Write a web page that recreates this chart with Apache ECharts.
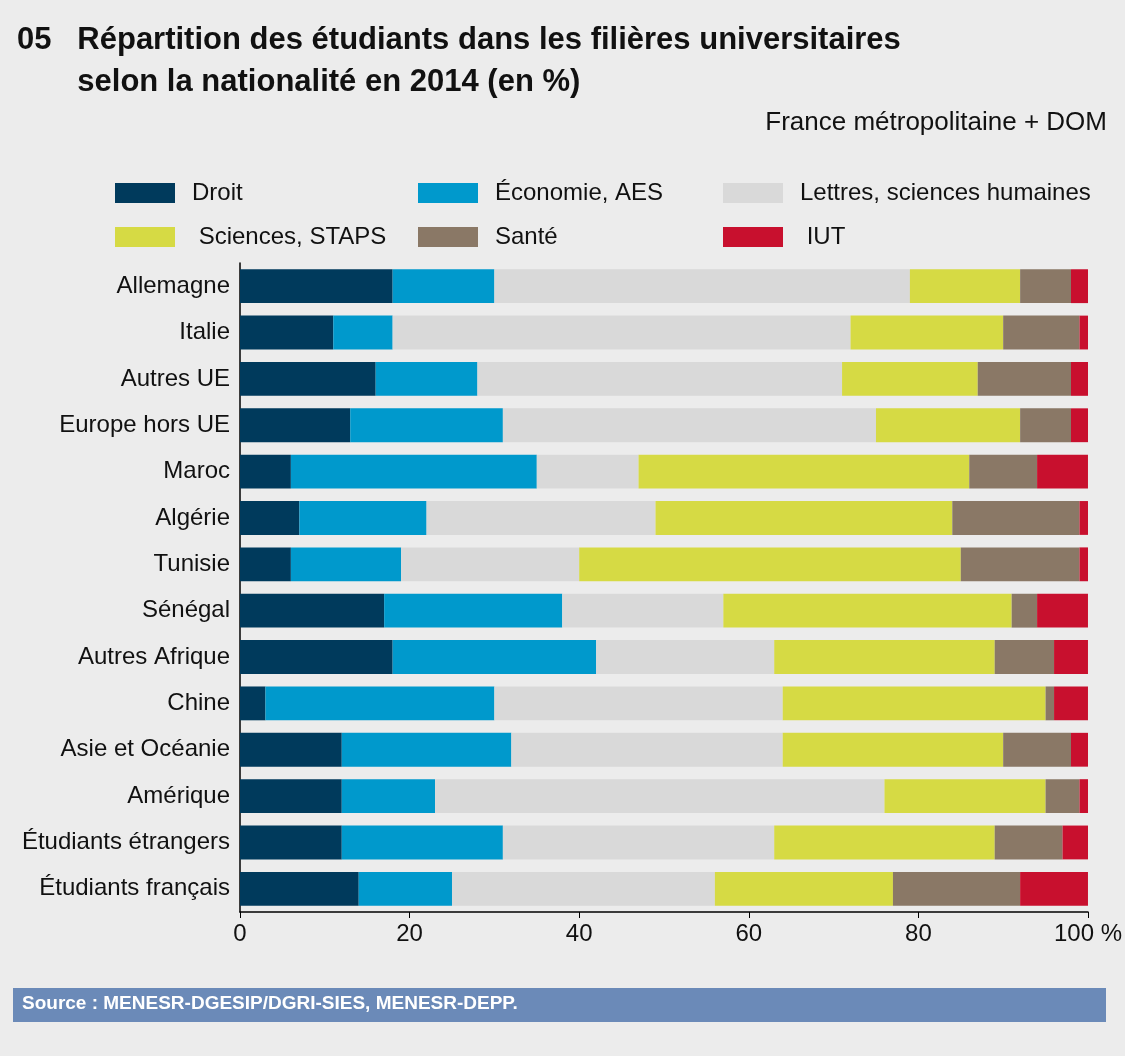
<!DOCTYPE html>
<html>
<head>
<meta charset="utf-8">
<script src="https://cdn.jsdelivr.net/npm/echarts@6/dist/echarts.min.js"></script>
<style>
  html, body { margin: 0; padding: 0; background: #ececec; }
  #chart { width: 1125px; height: 1056px; }
</style>
</head>
<body>
<div id="chart"></div>
<script>
// catégories (de haut en bas)
const categories = ["Allemagne", "Italie", "Autres UE", "Europe hors UE", "Maroc", "Algérie", "Tunisie",
  "Sénégal", "Autres Afrique", "Chine", "Asie et Océanie", "Amérique", "Étudiants étrangers", "Étudiants français"];
const droit    = [18, 11, 16, 13,  6,  7,  6, 17, 18,  3, 12, 12, 12, 14];
const economie = [12,  7, 12, 18, 29, 15, 13, 21, 24, 27, 20, 11, 19, 11];
const lettres  = [49, 54, 43, 44, 12, 27, 21, 19, 21, 34, 32, 53, 32, 31];
const sciences = [13, 18, 16, 17, 39, 35, 45, 34, 26, 31, 26, 19, 26, 21];
const sante    = [ 6,  9, 11,  6,  8, 15, 14,  3,  7,  1,  8,  4,  8, 15];
const iut      = [ 2,  1,  2,  2,  6,  1,  1,  6,  4,  4,  2,  1,  3,  8];
const xTicks = [0, 20, 40, 60, 80, 100];

const font = "'Liberation Sans Narrow', 'Liberation Sans', Arial, sans-serif";
const names = ["Droit", "Économie, AES", "Lettres, sciences humaines", " Sciences, STAPS", "Santé", " IUT"];
const colors = ["#003a5c", "#0099cc", "#d9d9d9", "#d6da44", "#8a7866", "#c8102e"];
const data = [droit, economie, lettres, sciences, sante, iut];

const legendBase = {
  orient: "vertical", top: 176, itemWidth: 60, itemHeight: 20, itemGap: 20,
  icon: "rect", textStyle: { fontFamily: font, fontSize: 24, color: "#111", padding: [0, 0, 0, 12] }
};

const chart = echarts.init(document.getElementById("chart"));
chart.setOption({
  backgroundColor: "#ececec",
  title: {
    text: "05   Répartition des étudiants dans les filières universitaires\n       selon la nationalité en 2014 (en %)",
    left: 12, top: 14,
    textStyle: { fontFamily: font, fontSize: 31, fontWeight: "bold", color: "#111", lineHeight: 42 }
  },
  legend: [
    Object.assign({ left: 110, data: [names[0], names[3]] }, legendBase),
    Object.assign({ left: 413, data: [names[1], names[4]] }, legendBase),
    Object.assign({ left: 718, data: [names[2], names[5]] }, legendBase)
  ],
  grid: { left: 240, right: 36, top: 263, bottom: 144, containLabel: false },
  xAxis: {
    type: "value", min: 0, max: 100, interval: 20,
    axisLine: { show: true, lineStyle: { color: "#000", width: 1.5 } },
    axisTick: { show: true, length: 6, lineStyle: { color: "#000" } },
    splitLine: { show: false },
    axisLabel: {
      fontFamily: font, fontSize: 24, color: "#111", margin: 10,
      formatter: v => (v === 100 ? "100 %" : (xTicks.includes(v) ? String(v) : ""))
    }
  },
  yAxis: {
    type: "category", data: categories, inverse: true,
    axisLine: { show: true, lineStyle: { color: "#000", width: 1.5 } },
    axisTick: { show: false },
    axisLabel: { fontFamily: font, fontSize: 24, color: "#111", margin: 10 }
  },
  series: names.map((n, i) => ({
    name: n, type: "bar", stack: "total", data: data[i], barWidth: "73%",
    itemStyle: { color: colors[i] }
  })),
  graphic: [
    {
      type: "text", right: 18, top: 110,
      style: { text: "France métropolitaine + DOM", fontFamily: font, fontSize: 26, fill: "#111" }
    },
    {
      type: "rect", left: 13, top: 988, shape: { width: 1093, height: 34 },
      style: { fill: "#6b8ab8" }
    },
    {
      type: "text", left: 22, top: 994,
      style: { text: "Source : MENESR-DGESIP/DGRI-SIES, MENESR-DEPP.", fontFamily: font, fontSize: 19, fontWeight: "bold", fill: "#fff" }
    }
  ]
});
</script>
</body>
</html>
